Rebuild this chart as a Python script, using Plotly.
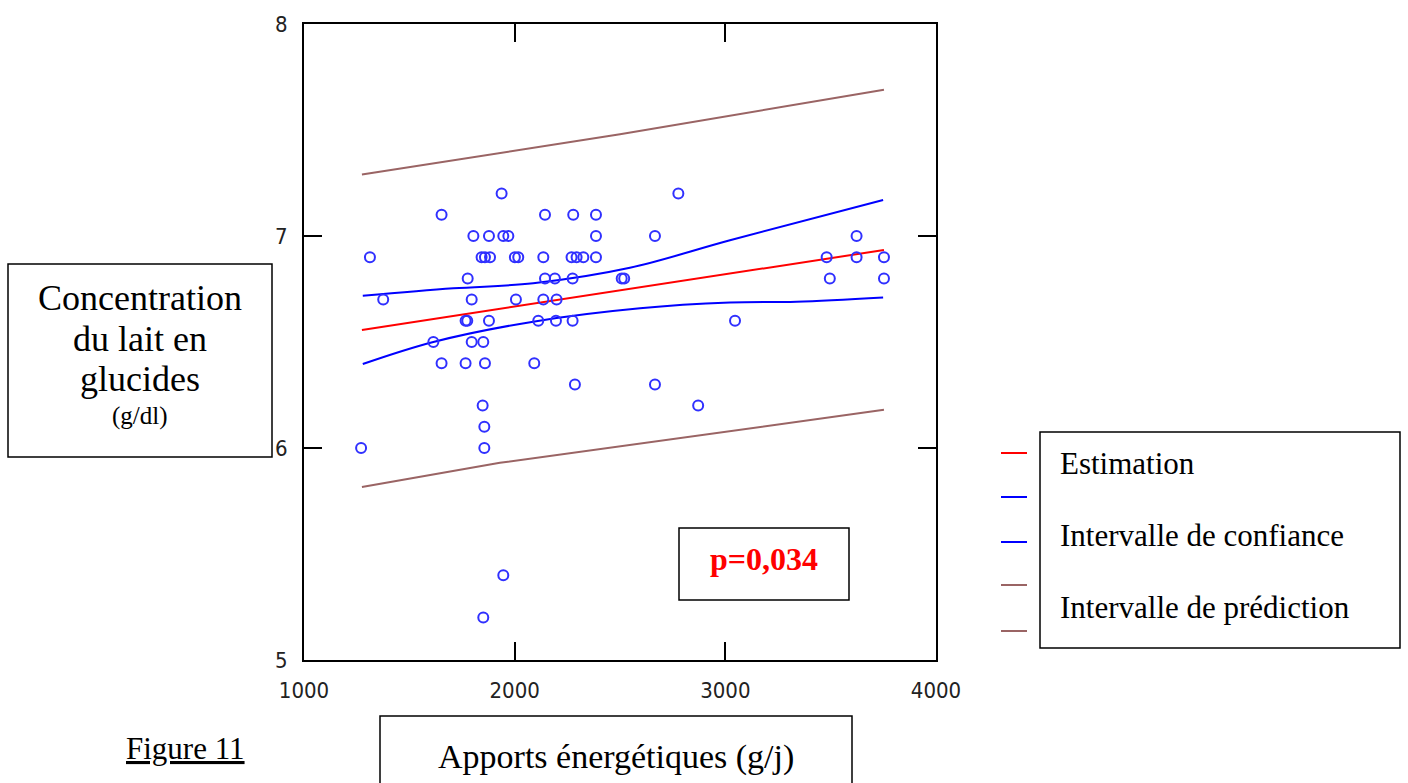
import plotly.graph_objects as go

# ---- data ----
energy = [1938, 2777,
          1653, 2144, 2278, 2386,
          1804, 1878, 1946, 1970, 2386, 2666, 3623,
          1313, 1843, 1859, 1883, 2001, 2017, 2136, 2270, 2294, 2326, 2386, 3481, 3623, 3753,
          1777, 2144, 2191, 2275, 2508, 2520, 3496, 3753,
          1376, 1796, 2006, 2136, 2199,
          1767, 1775, 1878, 2112, 2196, 2275, 3046,
          1614, 1796, 1851,
          1653, 1767, 1859, 2093,
          2286, 2666,
          1848, 2871,
          1856,
          1271, 1856,
          1946,
          1851]
glucides = [7.2, 7.2,
            7.1, 7.1, 7.1, 7.1,
            7.0, 7.0, 7.0, 7.0, 7.0, 7.0, 7.0,
            6.9, 6.9, 6.9, 6.9, 6.9, 6.9, 6.9, 6.9, 6.9, 6.9, 6.9, 6.9, 6.9, 6.9,
            6.8, 6.8, 6.8, 6.8, 6.8, 6.8, 6.8, 6.8,
            6.7, 6.7, 6.7, 6.7, 6.7,
            6.6, 6.6, 6.6, 6.6, 6.6, 6.6, 6.6,
            6.5, 6.5, 6.5,
            6.4, 6.4, 6.4, 6.4,
            6.3, 6.3,
            6.2, 6.2,
            6.1,
            6.0, 6.0,
            5.4,
            5.2]

est_x = [1275, 3753]
est_y = [6.557, 6.934]

ci_up_x = [1279, 1709, 2088, 2547, 3022, 3749]
ci_up_y = [6.718, 6.753, 6.777, 6.850, 6.980, 7.170]
ci_lo_x = [1279, 1614, 2088, 2595, 3022, 3338, 3749]
ci_lo_y = [6.396, 6.500, 6.596, 6.659, 6.686, 6.690, 6.710]

pi_up_x = [1275, 2500, 3753]
pi_up_y = [7.29, 7.48, 7.69]
pi_lo_x = [1275, 1930, 3753]
pi_lo_y = [5.816, 5.930, 6.180]

x_ticks = [1000, 2000, 3000, 4000]
y_ticks = [5, 6, 7, 8]

legend_labels = ["Estimation", "Intervalle de confiance", "Intervalle de prédiction"]
ylabel_lines = ["Concentration", "du lait en", "glucides"]
ylabel_unit = "(g/dl)"
xlabel = "Apports énergétiques (g/j)"
p_text = "p=0,034"
fig_label = "Figure 11"

RED = "#ff0000"
BLUE = "#0000ff"
BROWN = "#9a6464"
PT = "#3030ff"

# figure fills the page (body margin removed below); plot-area geometry in pixels
W, H = 1408, 783
L, R, T, B = 304, 936, 24, 660


def px(x):
    return (x - L) / (R - L)


def py(y):
    return (B - y) / (B - T)


fig = go.Figure()
line_w = 2
fig.add_trace(go.Scatter(x=pi_up_x, y=pi_up_y, mode="lines", line=dict(color=BROWN, width=line_w)))
fig.add_trace(go.Scatter(x=pi_lo_x, y=pi_lo_y, mode="lines", line=dict(color=BROWN, width=line_w)))
fig.add_trace(go.Scatter(x=ci_up_x, y=ci_up_y, mode="lines", line=dict(color=BLUE, width=line_w, shape="spline")))
fig.add_trace(go.Scatter(x=ci_lo_x, y=ci_lo_y, mode="lines", line=dict(color=BLUE, width=line_w, shape="spline")))
fig.add_trace(go.Scatter(x=est_x, y=est_y, mode="lines", line=dict(color=RED, width=line_w)))
fig.add_trace(go.Scatter(x=energy, y=glucides, mode="markers",
                         marker=dict(symbol="circle-open", size=10, color=PT, line=dict(width=2, color=PT))))

shapes = []
annotations = []
serif = "Liberation Serif, Times New Roman, serif"

# y-label box
shapes.append(dict(type="rect", xref="paper", yref="paper",
                   x0=px(8), x1=px(272), y0=py(457), y1=py(264),
                   line=dict(color="black", width=1.5)))
for txt, yy in zip(ylabel_lines, [298, 339, 379]):
    annotations.append(dict(text=txt, xref="paper", yref="paper", x=px(140), y=py(yy),
                            showarrow=False, xanchor="center", yanchor="middle",
                            font=dict(family=serif, size=36, color="black")))
annotations.append(dict(text=ylabel_unit, xref="paper", yref="paper", x=px(140), y=py(416),
                        showarrow=False, xanchor="center", yanchor="middle",
                        font=dict(family=serif, size=25, color="black")))

# legend box
shapes.append(dict(type="rect", xref="paper", yref="paper",
                   x0=px(1040), x1=px(1400), y0=py(648), y1=py(432),
                   line=dict(color="black", width=1.5)))
for txt, yy in zip(legend_labels, [463, 535, 607]):
    annotations.append(dict(text=txt, xref="paper", yref="paper", x=px(1058), y=py(yy),
                            showarrow=False, xanchor="left", yanchor="middle",
                            font=dict(family=serif, size=31, color="black")))
for col, yy in zip([RED, BLUE, BLUE, BROWN, BROWN], [453, 497, 542, 585, 631]):
    shapes.append(dict(type="line", xref="paper", yref="paper",
                       x0=px(1001), x1=px(1027), y0=py(yy), y1=py(yy),
                       line=dict(color=col, width=2)))

# p-value box
shapes.append(dict(type="rect", xref="paper", yref="paper",
                   x0=px(679), x1=px(849), y0=py(600), y1=py(528),
                   line=dict(color="black", width=1.5)))
annotations.append(dict(text="<b>" + p_text + "</b>", xref="paper", yref="paper", x=px(764), y=py(559),
                        showarrow=False, xanchor="center", yanchor="middle",
                        font=dict(family=serif, size=32, color=RED)))

# x-label box
shapes.append(dict(type="rect", xref="paper", yref="paper",
                   x0=px(380), x1=px(852), y0=py(800), y1=py(716),
                   line=dict(color="black", width=1.5)))
annotations.append(dict(text=xlabel, xref="paper", yref="paper", x=px(616), y=py(757),
                        showarrow=False, xanchor="center", yanchor="middle",
                        font=dict(family=serif, size=34, color="black")))

# figure caption
annotations.append(dict(text="<u>" + fig_label + "</u>", xref="paper", yref="paper", x=px(124), y=py(748),
                        showarrow=False, xanchor="left", yanchor="middle",
                        font=dict(family=serif, size=31, color="black")))

tick_font = dict(family="DejaVu Sans Condensed, Liberation Sans Narrow, DejaVu Sans", size=22, color="#222222")

fig.update_layout(
    width=W, height=H,
    margin=dict(l=L, r=W - R, t=T, b=H - B, pad=0, autoexpand=False),
    paper_bgcolor="white", plot_bgcolor="white",
    showlegend=False,
    hovermode=False,
    shapes=shapes, annotations=annotations,
    xaxis=dict(range=[1000, 4000], tickvals=x_ticks, ticktext=[str(v) for v in x_ticks],
               showgrid=False, zeroline=False, showline=True, linecolor="black", linewidth=2,
               mirror="ticks", ticks="inside", ticklen=18, tickwidth=2, tickcolor="black",
               tickfont=tick_font, ticklabelstandoff=10, automargin=False),
    yaxis=dict(range=[5, 8], tickvals=y_ticks, ticktext=[str(v) for v in y_ticks],
               showgrid=False, zeroline=False, showline=True, linecolor="black", linewidth=2,
               mirror="ticks", ticks="inside", ticklen=18, tickwidth=2, tickcolor="black",
               tickfont=tick_font, ticklabelstandoff=10, automargin=False),
)

fig.write_html("out.html",
               config={"displayModeBar": False, "staticPlot": True},
               post_script="document.body.style.margin='0';document.body.style.overflow='hidden';")
